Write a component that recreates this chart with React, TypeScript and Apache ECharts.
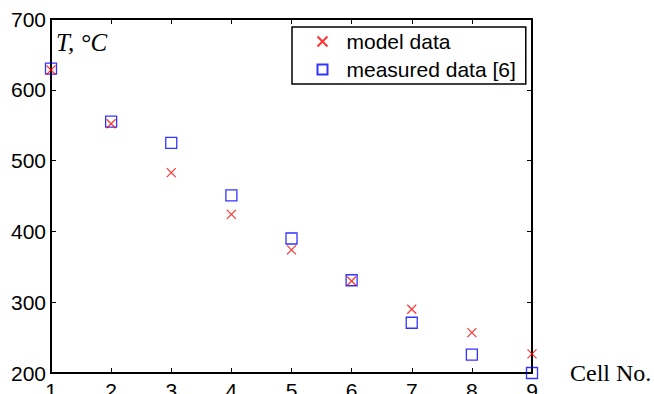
import React, { useEffect, useRef } from "react";
import * as echarts from "echarts";

const cells = [1, 2, 3, 4, 5, 6, 7, 8, 9];
const modelData = [628, 552, 483, 424, 374, 330, 290, 257, 227];
const measuredData = [630, 555, 525, 451, 390, 331, 271, 226, 200];
const seriesNames = ["model data", "measured data [6]"];
const xName = "Cell No.";
const yName = "T, °C";

export default function App() {
  const ref = useRef<HTMLDivElement>(null);
  useEffect(() => {
    if (!ref.current) return;
    const chart = echarts.init(ref.current, null, { renderer: "svg" });
    const axisLine = { show: true, lineStyle: { color: "#000", width: 2 } };
    const tick = { show: true, inside: true, length: 5, lineStyle: { color: "#000", width: 1 } };
    const labelStyle = { color: "#000", fontSize: 21, fontFamily: "Liberation Sans" };
    chart.setOption({
      animation: false,
      backgroundColor: "#fff",
      grid: {
        left: 51,
        top: 19,
        width: 481,
        height: 354,
        containLabel: false,
        outerBoundsMode: "none",
      },
      legend: {
        left: 292,
        top: 27,
        orient: "vertical",
        borderColor: "#000",
        borderWidth: 1.5,
        padding: [4, 10, 4, 23],
        itemGap: 7,
        itemWidth: 10,
        itemHeight: 10,
        textStyle: { ...labelStyle, fontSize: 21, padding: [0, 0, 0, 14] },
        data: seriesNames,
      },
      xAxis: [
        {
          type: "value",
          position: "bottom",
          min: 1,
          max: 9,
          interval: 1,
          axisLine,
          axisTick: tick,
          splitLine: { show: false },
          axisLabel: { ...labelStyle, margin: 7 },
          name: xName,
          nameLocation: "end",
          nameGap: 38,
          nameTextStyle: {
            color: "#000",
            fontSize: 24,
            fontFamily: "Liberation Serif",
            align: "left",
            verticalAlign: "middle",
            padding: [10, 0, 0, 0],
          },
        },
        {
          type: "value",
          position: "top",
          min: 1,
          max: 9,
          interval: 1,
          axisLine,
          axisTick: tick,
          splitLine: { show: false },
          axisLabel: { show: false },
        },
      ],
      yAxis: [
        {
          type: "value",
          position: "left",
          min: 200,
          max: 700,
          interval: 100,
          axisLine,
          axisTick: tick,
          splitLine: { show: false },
          axisLabel: { ...labelStyle, margin: 5 },
        },
        {
          type: "value",
          position: "right",
          min: 200,
          max: 700,
          interval: 100,
          axisLine,
          axisTick: tick,
          splitLine: { show: false },
          axisLabel: { show: false },
        },
      ],
      graphic: [
        {
          type: "text",
          left: 56,
          top: 30,
          style: {
            text: yName,
            font: "italic 25px 'Liberation Serif'",
            fill: "#000",
          },
        },
      ],
      series: [
        {
          name: seriesNames[0],
          type: "scatter",
          clip: false,
          symbol: "path://M0,0L1,1M1,0L0,1",
          symbolSize: 9,
          itemStyle: { color: "none", borderColor: "#ff0000", borderWidth: 1.2 },
          data: cells.map((c, i) => [c, modelData[i]]),
          z: 3,
        },
        {
          name: seriesNames[1],
          type: "scatter",
          clip: false,
          symbol: "rect",
          symbolSize: 11,
          itemStyle: { color: "none", borderColor: "#0000ff", borderWidth: 1.3 },
          data: cells.map((c, i) => [c, measuredData[i]]),
          z: 2,
        },
      ],
    });
    return () => chart.dispose();
  }, []);
  return (
    <div
      ref={ref}
      style={{ position: "absolute", left: 0, top: 0, width: 654, height: 394, background: "#fff" }}
    />
  );
}
